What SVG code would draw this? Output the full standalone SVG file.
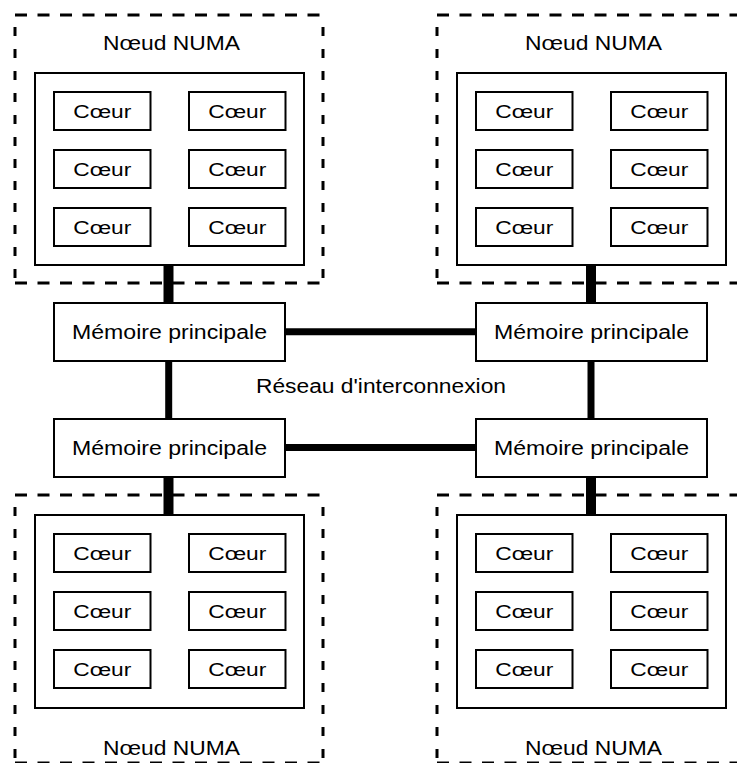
<svg xmlns="http://www.w3.org/2000/svg" width="737" height="763" viewBox="0 0 737 763">
  <style>
    text { font-family: "Liberation Sans", Arial, sans-serif; fill: #000; text-anchor: middle; }
    .lbl { font-size: 19.5px; }
    .core-txt { font-size: 18px; }
    .dash-h { stroke: #000; stroke-width: 3; fill: none; stroke-dasharray: 12 10.5; }
    .dash-v { stroke: #000; stroke-width: 3; fill: none; stroke-dasharray: 9 13; }
    .frame { fill: #fff; stroke: #000; stroke-width: 2; }
    .core { fill: #fff; stroke: #000; stroke-width: 2; }
    .mem { fill: #fff; stroke: #000; stroke-width: 2; }
    .bus { stroke: #000; fill: none; }
    .bus-node { stroke-width: 10; }
    .bus-net { stroke-width: 7; }
  </style>
  <defs>
    <!-- six cores laid out in a 2x3 grid, origin at the first core -->
    <g id="cores">
      <rect class="core" x="0" y="0" width="96.5" height="38"/>
      <rect class="core" x="135" y="0" width="96.5" height="38"/>
      <rect class="core" x="0" y="58" width="96.5" height="38"/>
      <rect class="core" x="135" y="58" width="96.5" height="38"/>
      <rect class="core" x="0" y="116" width="96.5" height="38"/>
      <rect class="core" x="135" y="116" width="96.5" height="38"/>
      <text class="core-txt" x="48.25" y="25.5" textLength="58" lengthAdjust="spacingAndGlyphs">Cœur</text>
      <text class="core-txt" x="183.25" y="25.5" textLength="58" lengthAdjust="spacingAndGlyphs">Cœur</text>
      <text class="core-txt" x="48.25" y="83.5" textLength="58" lengthAdjust="spacingAndGlyphs">Cœur</text>
      <text class="core-txt" x="183.25" y="83.5" textLength="58" lengthAdjust="spacingAndGlyphs">Cœur</text>
      <text class="core-txt" x="48.25" y="141.5" textLength="58" lengthAdjust="spacingAndGlyphs">Cœur</text>
      <text class="core-txt" x="183.25" y="141.5" textLength="58" lengthAdjust="spacingAndGlyphs">Cœur</text>
    </g>
  </defs>

  <!-- links between nodes and memories, and the interconnect ring -->
  <g id="connectors" class="bus">
    <line class="bus-node" x1="168.5" y1="265" x2="168.5" y2="303"/>
    <line class="bus-node" x1="591" y1="265" x2="591" y2="303"/>
    <line class="bus-node" x1="168.5" y1="477" x2="168.5" y2="515"/>
    <line class="bus-node" x1="591" y1="477" x2="591" y2="515"/>
    <line class="bus-net" x1="285" y1="331.7" x2="476" y2="331.7"/>
    <line class="bus-net" x1="285" y1="447.5" x2="476" y2="447.5"/>
    <line class="bus-net" x1="168.7" y1="361" x2="168.7" y2="419"/>
    <line class="bus-net" x1="591" y1="361" x2="591" y2="419"/>
  </g>

  <!-- NUMA node, top left -->
  <g id="numa-tl">
    <line class="dash-h" x1="15" y1="15" x2="323" y2="15"/>
    <line class="dash-h" x1="15" y1="283" x2="323" y2="283"/>
    <line class="dash-v" x1="15" y1="27" x2="15" y2="283"/>
    <line class="dash-v" x1="323" y1="27" x2="323" y2="283"/>
    <text class="lbl" x="171.5" y="50" textLength="137" lengthAdjust="spacingAndGlyphs">Nœud NUMA</text>
    <rect class="frame" x="35" y="73" width="269" height="192"/>
    <use href="#cores" x="54" y="92"/>
  </g>

  <!-- NUMA node, top right -->
  <g id="numa-tr">
    <line class="dash-h" x1="437" y1="15" x2="745" y2="15"/>
    <line class="dash-h" x1="437" y1="283" x2="745" y2="283"/>
    <line class="dash-v" x1="437" y1="27" x2="437" y2="283"/>
    <text class="lbl" x="593.5" y="50" textLength="137" lengthAdjust="spacingAndGlyphs">Nœud NUMA</text>
    <rect class="frame" x="457" y="73" width="269" height="192"/>
    <use href="#cores" x="476" y="92"/>
  </g>

  <!-- NUMA node, bottom left -->
  <g id="numa-bl">
    <line class="dash-h" x1="15" y1="495" x2="323" y2="495"/>
    <line class="dash-h" x1="15" y1="763" x2="323" y2="763"/>
    <line class="dash-v" x1="15" y1="507" x2="15" y2="763"/>
    <line class="dash-v" x1="323" y1="507" x2="323" y2="763"/>
    <rect class="frame" x="35" y="515" width="269" height="193"/>
    <use href="#cores" x="54" y="534"/>
    <text class="lbl" x="171.5" y="755" textLength="137" lengthAdjust="spacingAndGlyphs">Nœud NUMA</text>
  </g>

  <!-- NUMA node, bottom right -->
  <g id="numa-br">
    <line class="dash-h" x1="437" y1="495" x2="745" y2="495"/>
    <line class="dash-h" x1="437" y1="763" x2="745" y2="763"/>
    <line class="dash-v" x1="437" y1="507" x2="437" y2="763"/>
    <rect class="frame" x="457" y="515" width="269" height="193"/>
    <use href="#cores" x="476" y="534"/>
    <text class="lbl" x="593.5" y="755" textLength="137" lengthAdjust="spacingAndGlyphs">Nœud NUMA</text>
  </g>

  <!-- main memories -->
  <g id="mem-tl">
    <rect class="mem" x="54" y="303" width="231" height="58"/>
    <text class="lbl" x="169.5" y="338.5" textLength="195" lengthAdjust="spacingAndGlyphs">Mémoire principale</text>
  </g>
  <g id="mem-tr">
    <rect class="mem" x="476" y="303" width="231" height="58"/>
    <text class="lbl" x="591.5" y="338.5" textLength="195" lengthAdjust="spacingAndGlyphs">Mémoire principale</text>
  </g>
  <g id="mem-bl">
    <rect class="mem" x="54" y="419" width="231" height="58"/>
    <text class="lbl" x="169.5" y="454.5" textLength="195" lengthAdjust="spacingAndGlyphs">Mémoire principale</text>
  </g>
  <g id="mem-br">
    <rect class="mem" x="476" y="419" width="231" height="58"/>
    <text class="lbl" x="591.5" y="454.5" textLength="195" lengthAdjust="spacingAndGlyphs">Mémoire principale</text>
  </g>

  <!-- interconnect label -->
  <g id="network">
    <text class="lbl" x="381" y="393" textLength="250" lengthAdjust="spacingAndGlyphs">Réseau d'interconnexion</text>
  </g>
</svg>
